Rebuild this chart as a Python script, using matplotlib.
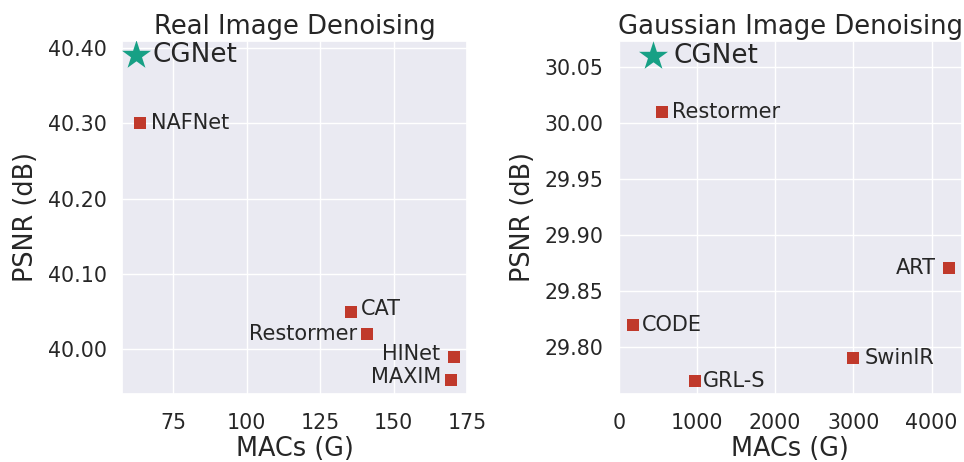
import matplotlib
matplotlib.use('Agg')
import matplotlib.pyplot as plt
import seaborn as sns

# ── data ──────────────────────────────────────────────────────────────────────
real_models = ['NAFNet', 'CAT', 'Restormer', 'HINet', 'MAXIM']
real_macs = [63.6, 135.6, 140.9, 170.7, 169.5]
real_psnr = [40.30, 40.05, 40.02, 39.99, 39.96]
real_ours_macs = 62.3
real_ours_psnr = 40.39

gauss_models = ['Restormer', 'ART', 'CODE', 'SwinIR', 'GRL-S']
gauss_macs = [560, 4220, 178, 2990, 972]
gauss_psnr = [30.01, 29.87, 29.82, 29.79, 29.77]
gauss_ours_macs = 437
gauss_ours_psnr = 30.06

# label offsets in points (dx, dy, ha)
real_offsets = [(8, 0, 'left'), (7, 2, 'left'), (-7, 0, 'right'), (-10, 2, 'right'), (-7, 2, 'right')]
gauss_offsets = [(7, 0, 'left'), (-9, 0, 'right'), (7, 0, 'left'), (9, 0, 'left'), (6, 0, 'left')]

RED = '#c0392b'
GREEN = '#17a085'
TXT = '#262626'

sns.set_theme(style='darkgrid')
plt.rcParams['font.family'] = ['DejaVu Sans']

fig = plt.figure(figsize=(9.64, 4.62), dpi=100)
ax1 = fig.add_axes([0.1266, 0.1472, 0.3578, 0.7641])
ax2 = fig.add_axes([0.6418, 0.1472, 0.3562, 0.7641])


def draw(ax, models, macs, psnr, offsets, ours_x, ours_y, ours_dx):
    ax.scatter(macs, psnr, marker='s', s=72, color=RED, zorder=3, linewidths=0)
    for m, x, y, (dx, dy, ha) in zip(models, macs, psnr, offsets):
        ax.annotate(m, (x, y), xytext=(dx, dy), textcoords='offset points',
                    ha=ha, va='center', fontsize=15, color=TXT)
    ax.scatter([ours_x], [ours_y], marker='*', s=480, color=GREEN, zorder=4, linewidths=0)
    ax.annotate('CGNet', (ours_x, ours_y), xytext=(ours_dx, 0), textcoords='offset points',
                ha='left', va='center', fontsize=18.9, color=TXT)
    ax.set_xlabel('MACs (G)', fontsize=18.4, color=TXT, labelpad=2)
    ax.set_ylabel('PSNR (dB)', fontsize=18.4, color=TXT, labelpad=6)
    ax.tick_params(labelsize=14.8, colors=TXT)
    ax.tick_params(axis='x', pad=8)
    ax.tick_params(axis='y', pad=5)


draw(ax1, real_models, real_macs, real_psnr, real_offsets, real_ours_macs, real_ours_psnr, 12)
ax1.set_title('Real Image Denoising', fontsize=18.6, color=TXT, pad=5)
ax1.set_xlim(57.5, 175)
ax1.set_ylim(39.941, 40.409)
ax1.set_xticks([75, 100, 125, 150, 175])
ax1.set_yticks([40.0, 40.1, 40.2, 40.3, 40.4])
ax1.set_yticklabels([f'{v:.2f}' for v in [40.0, 40.1, 40.2, 40.3, 40.4]])

draw(ax2, gauss_models, gauss_macs, gauss_psnr, gauss_offsets, gauss_ours_macs, gauss_ours_psnr, 15)
ax2.set_title('Gaussian Image Denoising', fontsize=18.6, color=TXT, pad=5)
ax2.set_xlim(0, 4390)
ax2.set_ylim(29.758, 30.073)
ax2.set_xticks([0, 1000, 2000, 3000, 4000])
ax2.set_yticks([29.80, 29.85, 29.90, 29.95, 30.00, 30.05])
ax2.set_yticklabels([f'{v:.2f}' for v in [29.80, 29.85, 29.90, 29.95, 30.00, 30.05]])

fig.savefig('out.png', dpi=100)
